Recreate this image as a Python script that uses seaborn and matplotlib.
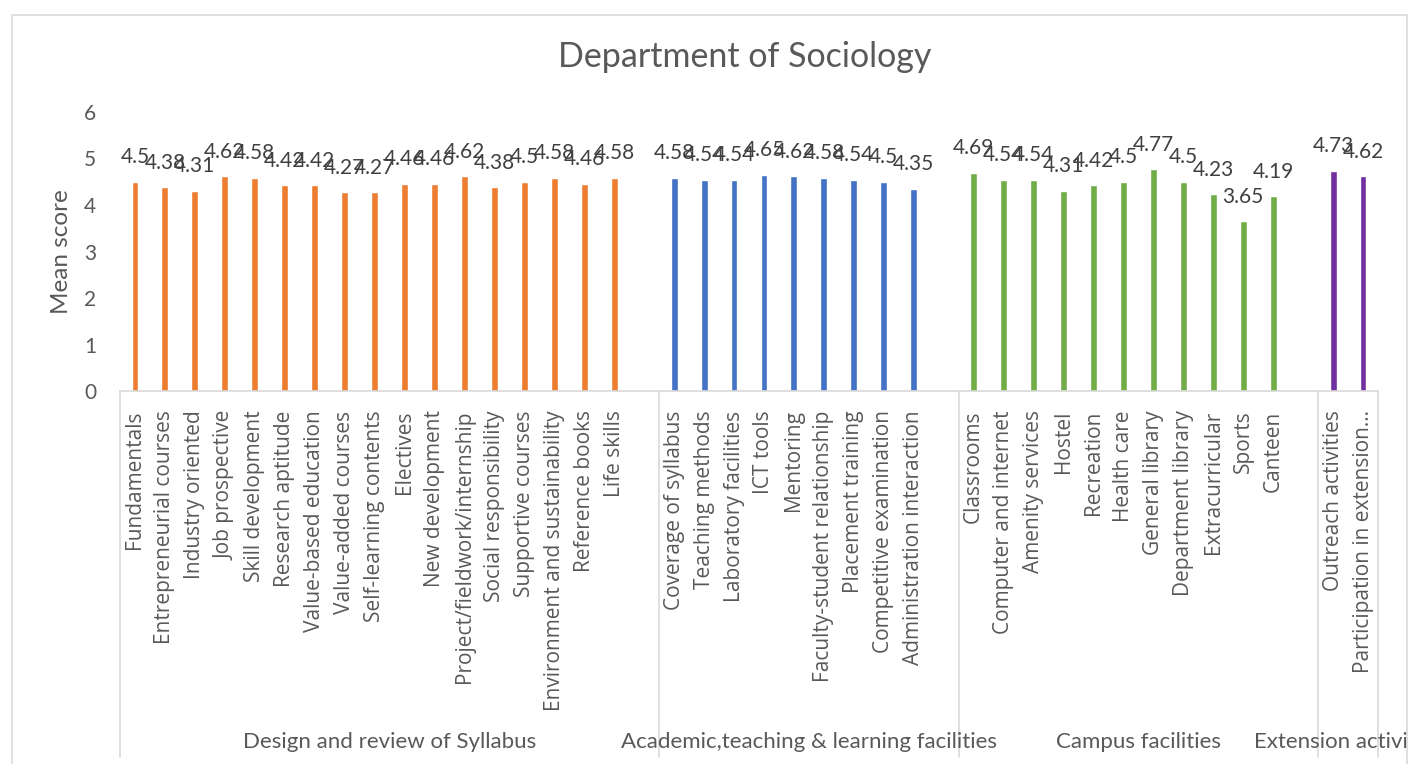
import matplotlib
matplotlib.use("Agg")
import matplotlib.pyplot as plt
import matplotlib.transforms as mtransforms
from matplotlib.patches import Rectangle
import seaborn as sns
import pandas as pd

# ---------------- data ----------------
title = "Department of Sociology"
ylabel = "Mean score"

groups = ["Design and review of Syllabus",
          "Academic,teaching & learning facilities",
          "Campus facilities",
          "Extension activities"]

syllabus_items = ["Fundamentals", "Entrepreneurial courses", "Industry oriented",
                  "Job prospective", "Skill development", "Research aptitude",
                  "Value-based education", "Value-added courses",
                  "Self-learning contents", "Electives", "New development",
                  "Project/fieldwork/internship", "Social responsibility",
                  "Supportive courses", "Environment and sustainability",
                  "Reference books", "Life skills"]
syllabus_scores = [4.5, 4.38, 4.31, 4.62, 4.58, 4.42, 4.42, 4.27, 4.27, 4.46,
                   4.46, 4.62, 4.38, 4.5, 4.58, 4.46, 4.58]

academic_items = ["Coverage of syllabus", "Teaching methods", "Laboratory facilities",
                  "ICT tools", "Mentoring", "Faculty-student relationship",
                  "Placement training", "Competitive examination",
                  "Administration interaction"]
academic_scores = [4.58, 4.54, 4.54, 4.65, 4.62, 4.58, 4.54, 4.5, 4.35]

campus_items = ["Classrooms", "Computer and internet", "Amenity services", "Hostel",
                "Recreation", "Health care", "General library", "Department library",
                "Extracurricular", "Sports", "Canteen"]
campus_scores = [4.69, 4.54, 4.54, 4.31, 4.42, 4.5, 4.77, 4.5, 4.23, 3.65, 4.19]

extension_items = ["Outreach activities", "Participation in extension..."]
extension_scores = [4.73, 4.62]

colors = ["#ED7D31", "#4472C4", "#70AD47", "#7030A0"]
yticks = [0, 1, 2, 3, 4, 5, 6]

# ---------------- table ----------------
item_lists = [syllabus_items, academic_items, campus_items, extension_items]
score_lists = [syllabus_scores, academic_scores, campus_scores, extension_scores]
rows = []
order = []
for gi, (g, items, scores) in enumerate(zip(groups, item_lists, score_lists)):
    for it, sc in zip(items, scores):
        rows.append({"item": it, "score": sc, "group": g})
    order += items
    if gi < len(groups) - 1:
        order.append(" " * (gi + 1))  # empty slot between groups
df = pd.DataFrame(rows)

# ---------------- figure ----------------
sns.set_theme(style="white")
plt.rcParams["font.family"] = ["Lato", "DejaVu Sans"]
txt = "#595959"

W, H = 1408, 764
fig = plt.figure(figsize=(W / 100, H / 100), dpi=100)
ax = fig.add_axes([120 / W, 1 - 391 / H, 1258 / W, 279 / H])

sns.barplot(data=df, x="item", y="score", hue="group", order=order,
            hue_order=groups, palette=colors, dodge=False, width=0.23,
            legend=False, ax=ax, saturation=1)

for cont in ax.containers:
    ax.bar_label(cont, fmt="%g", padding=10.5, fontsize=15, color="#404040",
                 family=["Lato", "DejaVu Sans"])

ax.set_xlim(-0.5, len(order) - 0.5)
ax.set_ylim(0, 6)
ax.set_yticks(yticks)
ax.tick_params(axis="y", length=0, pad=17, labelsize=15, labelcolor=txt)
ax.tick_params(axis="x", length=0, pad=14, labelsize=15, labelcolor=txt)
ax.set_xticks(range(len(order)))
ax.set_xticklabels(order, rotation=90, va="top", ha="center",
                   family=["Open Sans", "DejaVu Sans"])
ax.set_xlabel("")
ax.set_ylabel(ylabel, fontsize=17.5, color=txt, labelpad=9)

for s in ["top", "right", "left"]:
    ax.spines[s].set_visible(False)
ax.spines["bottom"].set_color("#D9D9D9")
ax.spines["bottom"].set_linewidth(1.2)
ax.grid(False)

# group separators and group labels
trans = mtransforms.blended_transform_factory(ax.transData, ax.transAxes)
bottom = -(757 - 391) / 279
bounds = [-0.5]
pos = 0
for gi, items in enumerate(item_lists):
    pos += len(items) + (1 if gi < len(item_lists) - 1 else 0)
    bounds.append(pos - 0.5)
for b in bounds:
    ax.plot([b, b], [0, bottom], transform=trans, color="#D9D9D9", lw=1.2,
            clip_on=False)
for gi, g in enumerate(groups):
    c = (bounds[gi] + bounds[gi + 1]) / 2
    ax.text(c, -(742 - 391) / 279, g, transform=trans, ha="center", va="center",
            fontsize=16, color=txt, clip_on=False)

fig.text(745 / W, 1 - 57 / H, title, ha="center", va="center", fontsize=24.5,
         color=txt)

# chart border
fig.patches.append(Rectangle((12 / W, -0.05), (1407 - 12) / W, 1.05 - 15 / H,
                             transform=fig.transFigure, fill=False,
                             edgecolor="#D9D9D9", lw=1.2))

fig.savefig("out.png", dpi=100, facecolor="white")
